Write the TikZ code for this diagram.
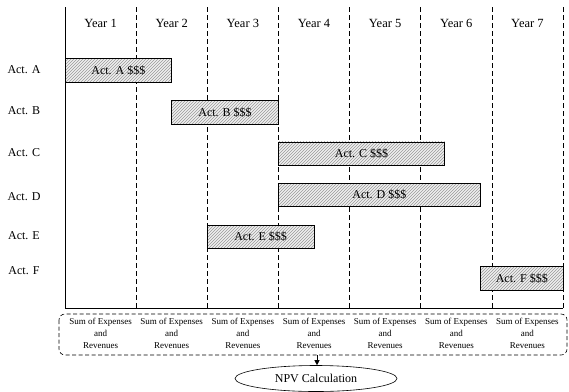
\documentclass[tikz,border=0pt]{standalone}
\usepackage{fontspec}
\setmainfont{Liberation Serif}
\usetikzlibrary{patterns,shapes.geometric,arrows.meta}
\begin{document}
\begin{tikzpicture}[x=1pt,y=-1pt,
  bar/.style={draw=black,line width=0.6pt,preaction={fill=gray!12},pattern=north east lines,pattern color=gray!80,
     minimum height=23.5pt,inner sep=0pt,font=\fontsize{12}{14}\selectfont},
  yearlbl/.style={font=\fontsize{12.5}{14}\selectfont,inner sep=0pt},
  actlbl/.style={font=\fontsize{12}{14}\selectfont,inner sep=0pt},
  sumlbl/.style={font=\fontsize{9}{12}\selectfont,align=center,inner sep=0pt},
  grid/.style={line width=0.6pt,dash pattern=on 5pt off 3pt},
  solidline/.style={line width=0.6pt}]
\useasboundingbox (0,0) rectangle (569,391);
\def\cw{71.143}
% vertical lines
\coordinate (t0) at (65,7); \coordinate (b0) at (65,308);
\draw[solidline] (t0) -- (b0);
\foreach \i in {1,...,7}{
  \coordinate (t\i) at ({65+\i*\cw},7);
  \coordinate (b\i) at ({65+\i*\cw},308);
  \draw[grid] (t\i) -- (b\i);
}
\draw[solidline] (b0) -- (b7);
% year labels
\foreach \i in {1,...,7}{
  \node[yearlbl] (y\i) at ({65+(\i-0.5)*\cw},23) {Year \i};
}
% activity labels
\node[actlbl] (la) at (24,70) {Act. A};
\node[actlbl] (lb) at (24,111) {Act. B};
\node[actlbl] (lc) at (24,153) {Act. C};
\node[actlbl] (ld) at (24,197) {Act. D};
\node[actlbl] (le) at (24,236) {Act. E};
\node[actlbl] (lf) at (24,271) {Act. F};
% bars
\node[bar,minimum width={1.5*\cw}] (A) at ({65+0.75*\cw},70.3) {Act. A \$\$\$};
\node[bar,minimum width={1.5*\cw}] (B) at ({65+2.25*\cw},112.3) {Act. B \$\$\$};
\node[bar,minimum width=166.3pt] (C) at ({278.4+83.15},153.7) {Act. C \$\$\$};
\node[bar,minimum width=202pt] (D) at ({278.4+101},195) {Act. D \$\$\$};
\node[bar,minimum width={1.5*\cw}] (E) at ({65+2.75*\cw},237) {Act. E \$\$\$};
\node[bar,minimum width=83pt] (F) at ({480.3+41.5},278.3) {Act. F \$\$\$};
% bottom dashed box
\draw[line width=0.6pt,dash pattern=on 4pt off 2.5pt,rounded corners=6pt] (59,314) rectangle (567,355);
\coordinate (boxbot) at (317,355);
\foreach \i in {1,...,7}{
  \node[sumlbl] (s\i) at ({65+(\i-0.5)*\cw},333) {Sum of Expenses\\and\\Revenues};
}
% NPV
\node[ellipse,draw,line width=0.6pt,minimum width=162pt,minimum height=26pt,inner sep=0pt,font=\fontsize{12}{14}\selectfont] (npv) at (316,378.5) {NPV Calculation};
\draw[line width=0.6pt,-{Triangle[length=5pt,width=5pt]}] (boxbot) -- (npv.north -| boxbot);
\end{tikzpicture}
\end{document}
